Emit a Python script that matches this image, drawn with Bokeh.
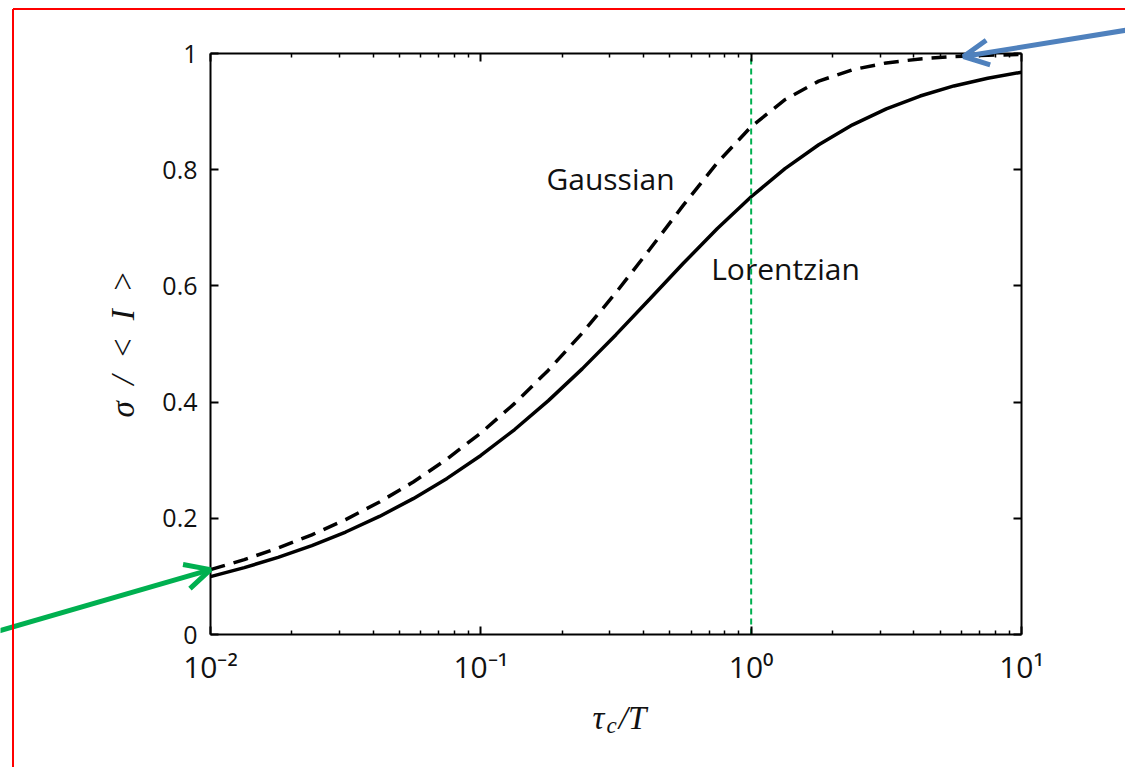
from bokeh.plotting import figure
from bokeh.models import (Range1d, FixedTicker, LogAxis, LinearAxis, Label, Arrow,
                          OpenHead, CustomJSTickFormatter)
from bokeh.embed import file_html
from bokeh.resources import INLINE

# ---------------- data ----------------
tau_ratio = [0.01, 0.01334, 0.01778, 0.02371, 0.03162, 0.04217, 0.05623, 0.07499,
             0.1, 0.1334, 0.1778, 0.2371, 0.3162, 0.4217, 0.5623, 0.7499,
             1.0, 1.334, 1.778, 2.371, 3.162, 4.217, 5.623, 7.499, 10.0]
lorentzian = [0.0997, 0.1151, 0.1328, 0.1531, 0.1764, 0.2032, 0.2338, 0.2687,
              0.3082, 0.3528, 0.4025, 0.4572, 0.5161, 0.5775, 0.6393, 0.6988,
              0.7534, 0.8018, 0.8430, 0.8772, 0.9048, 0.9268, 0.9442, 0.9574, 0.9678]
gaussian = [0.1117, 0.1289, 0.1488, 0.1716, 0.1978, 0.2280, 0.2625, 0.3020,
            0.3469, 0.3978, 0.4550, 0.5187, 0.5885, 0.6630, 0.7394, 0.8121,
            0.8741, 0.9205, 0.9524, 0.9721, 0.9838, 0.9907, 0.9948, 0.9970, 0.9983]

x_ticks = [0.01, 0.1, 1, 10]
x_tick_labels = ["10\u207b\u00b2", "10\u207b\u00b9", "10\u2070", "10\u00b9"]
x_minor_ticks = [m * d for d in (0.01, 0.1, 1) for m in range(2, 10)]
y_ticks = [0, 0.2, 0.4, 0.6, 0.8, 1.0]
y_tick_labels = ["0", "0.2", "0.4", "0.6", "0.8", "1"]
x_limits = (0.01, 10)
y_limits = (0, 1)

series_names = ["Gaussian", "Lorentzian"]
marker_value = 1.0  # tau_c / T = 1

# ---------------- layout geometry (canvas pixels) ----------------
W, H = 1125, 767
FL, FT, FR, FB = 210, 53, 1021, 634  # where the axes box sits on the canvas


def to_data(px, py):
    lx = -2 + 3.0 * (px - FL) / (FR - FL)
    return 10 ** lx, (FB - py) / (FB - FT)


x0, y0 = to_data(0, H)
x1, y1 = to_data(W, 0)

p = figure(width=W, height=H, x_axis_type="log",
           x_range=Range1d(x0, x1), y_range=Range1d(y0, y1),
           output_backend="svg", toolbar_location=None, min_border=0)
p.grid.visible = False
p.background_fill_color = "white"
p.border_fill_color = "white"
p.outline_line_color = None

fmt_js = ("const i = tv.findIndex(t => Math.abs(t - tick) < 1e-9 * Math.max(1, Math.abs(t)));"
          "return i >= 0 ? tl[i] : '';")
empty_fmt = CustomJSTickFormatter(code="return '';")

xt = FixedTicker(ticks=x_ticks, minor_ticks=x_minor_ticks)
yt = FixedTicker(ticks=y_ticks, minor_ticks=[])

TICK_FONT = "Open Sans"

xa = p.xaxis[0]
xa.ticker = xt
xa.formatter = CustomJSTickFormatter(args=dict(tv=x_ticks, tl=x_tick_labels), code=fmt_js)
xa.fixed_location = y_limits[0]
xa.bounds = x_limits
ya = p.yaxis[0]
ya.ticker = yt
ya.formatter = CustomJSTickFormatter(args=dict(tv=y_ticks, tl=y_tick_labels), code=fmt_js)
ya.fixed_location = x_limits[0]
ya.bounds = y_limits

top = LogAxis(ticker=xt, formatter=empty_fmt, fixed_location=y_limits[1], bounds=x_limits)
right = LinearAxis(ticker=yt, formatter=empty_fmt, fixed_location=x_limits[1], bounds=y_limits)
p.add_layout(top, "above")
p.add_layout(right, "right")

for ax in (xa, ya, top, right):
    ax.axis_line_color = "black"
    ax.axis_line_width = 2
    ax.major_tick_line_color = "black"
    ax.major_tick_line_width = 2
    ax.minor_tick_line_color = "black"
    ax.minor_tick_line_width = 1.5
    ax.major_tick_in = 8
    ax.major_tick_out = 0
    ax.minor_tick_in = 4
    ax.minor_tick_out = 0
    ax.major_label_text_color = "#111111"
    ax.major_label_text_font = TICK_FONT

for ax in (top, right):
    ax.major_label_standoff = 0
    ax.major_label_text_font_size = "1px"

xa.major_label_text_font_size = "30px"
xa.major_label_standoff = 11
ya.major_label_text_font_size = "25px"
ya.major_label_standoff = 13

ya.axis_label = "\u03c3\u2002/\u2002<\u2002I\u2002>"
ya.axis_label_text_font = "Liberation Serif"
ya.axis_label_text_font_style = "italic"
ya.axis_label_text_font_size = "33px"
ya.axis_label_text_color = "#111111"
ya.axis_label_standoff = 18

# ---------------- curves ----------------
p.line(tau_ratio, gaussian, line_color="black", line_width=3.5, line_dash="15 9")
p.line(tau_ratio, lorentzian, line_color="black", line_width=3.5)

# vertical marker at tau_c / T = 1
p.line([marker_value, marker_value], list(y_limits), line_color="#00B050",
       line_width=2, line_dash="6 4")

# curve labels
gx, gy = to_data(610, 178)
lx_, ly_ = to_data(785, 268)
p.add_layout(Label(x=gx, y=gy, text=series_names[0], text_font="Open Sans",
                   text_font_size="30px", text_color="#111111",
                   text_align="center", text_baseline="middle"))
p.add_layout(Label(x=lx_, y=ly_, text=series_names[1], text_font="Open Sans",
                   text_font_size="30px", text_color="#111111",
                   text_align="center", text_baseline="middle"))

# x-axis label  tau_c / T
for txt, px, py, size in (("\u03c4", 598, 717, "33px"), ("c", 611, 725, "23px"), ("/T", 632, 717, "33px")):
    dx, dy = to_data(px, py)
    p.add_layout(Label(x=dx, y=dy, text=txt, text_font="Liberation Serif",
                       text_font_style="italic", text_font_size=size, text_color="#111111",
                       text_align="center", text_baseline="middle"))

# arrows
gsx, gsy = to_data(-2, 630.5)
p.add_layout(Arrow(x_start=gsx, y_start=gsy, x_end=tau_ratio[0], y_end=gaussian[0],
                   line_color="#00B050", line_width=5,
                   end=OpenHead(size=25, line_color="#00B050", line_width=5)))
bsx, bsy = to_data(1130, 29)
bex, bey = to_data(963, 56)
p.add_layout(Arrow(x_start=bsx, y_start=bsy, x_end=bex, y_end=bey,
                   line_color="#4F81BD", line_width=5,
                   end=OpenHead(size=25, line_color="#4F81BD", line_width=5)))

# red frame of the slide
r0x, r0y = to_data(12.5, 8.5)
r1x, _ = to_data(W + 5, 8.5)
_, r2y = to_data(12.5, H + 5)
p.add_layout(Arrow(x_start=r0x, y_start=r0y, x_end=r1x, y_end=r0y, end=None,
                   line_color="red", line_width=2))
p.add_layout(Arrow(x_start=r0x, y_start=r0y, x_end=r0x, y_end=r2y, end=None,
                   line_color="red", line_width=2))

open("out.html", "w").write(file_html(p, INLINE))
